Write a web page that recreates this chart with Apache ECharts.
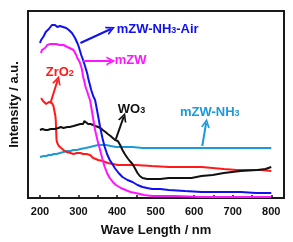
<!DOCTYPE html>
<html>
<head>
<meta charset="utf-8">
<script src="https://cdn.jsdelivr.net/npm/echarts@6/dist/echarts.min.js"></script>
<style>html,body{margin:0;padding:0;background:#fff}#c{width:293px;height:242px}</style>
</head>
<body>
<div id="c"></div>
<script>
// x: wavelength (nm), y: intensity (a.u., arbitrary units)
const xTicks = [200, 250, 300, 350, 400, 450, 500, 550, 600, 650, 700, 750, 800];
const xLabels = [200, 300, 400, 500, 600, 700, 800];

const mzwNH3Air = [[200,155],[203,158],[205,160],[208,159],[210,162],[213,164],[215,166],[218,166],[220,168],[223,169],[226,171],[228,170],[231,173],[234,172],[236,171],[239,173],[241,172],[245,171],[249,171],[252,172],[256,171],[260,171],[264,171],[268,170],[271,169],[275,168],[279,167],[283,165],[287,163],[291,160],[294,158],[297,155],[300,152],[304,147],[307,143],[310,140],[312,138],[316,133],[320,128],[323,124],[325,120],[329,114],[333,108],[338,102],[343,98],[349,86],[356,71],[362,60],[368,51],[374,44],[381,38],[388,34],[394,30],[404,25],[414,21],[427,18],[440,16],[453,13],[466,11],[478,10],[491,9],[512,9],[534,8],[576,7],[619,6],[670,6],[721,6],[760,5],[800,5]];

const mzw = [[203,145],[205,148],[207,147],[210,150],[213,150],[215,151],[219,153],[223,154],[227,154],[231,155],[235,154],[238,153],[242,154],[246,154],[251,153],[256,153],[261,153],[266,152],[271,151],[277,150],[282,149],[287,148],[291,146],[294,143],[297,140],[300,138],[303,136],[305,135],[308,130],[310,126],[312,121],[315,117],[317,113],[320,109],[323,106],[326,102],[330,98],[336,84],[343,68],[349,58],[356,48],[362,39],[368,31],[374,25],[381,20],[389,16],[397,13],[410,10],[422,8],[435,6],[448,5],[470,3],[491,2],[550,2],[619,1],[700,1],[800,1]];

const wo3 = [[200,68],[203,67],[206,69],[210,69],[214,68],[217,69],[220,68],[224,69],[228,69],[233,70],[238,69],[243,70],[248,70],[254,71],[261,70],[266,71],[271,71],[277,71],[282,72],[287,72],[292,72],[296,73],[300,73],[305,74],[308,74],[312,74],[315,77],[317,76],[320,75],[325,74],[331,74],[338,73],[344,72],[351,71],[357,70],[363,68],[370,66],[376,64],[383,62],[389,60],[395,58],[402,57],[408,53],[414,48],[420,44],[427,40],[433,37],[440,34],[446,30],[453,25],[459,22],[466,20],[478,19],[491,19],[512,19],[534,20],[564,20],[593,20],[619,22],[648,23],[677,25],[720,27],[764,28],[785,29],[800,31]];

const zro2 = [[203,100],[205,99],[208,97],[211,96],[213,95],[216,94],[218,95],[221,95],[223,96],[226,96],[228,96],[231,95],[233,94],[235,92],[236,91],[237,88],[238,86],[240,82],[241,78],[242,68],[243,58],[245,55],[249,52],[254,50],[261,48],[269,46],[279,45],[287,44],[296,45],[305,45],[312,44],[321,44],[330,43],[334,42],[338,40],[345,39],[351,38],[363,37],[376,35],[389,34],[402,33],[414,33],[430,33],[448,33],[490,32],[534,31],[576,31],[619,31],[648,30],[677,29],[710,28],[746,28],[775,28],[800,27]];

const mzwNH3 = [[200,41],[205,41],[210,42],[216,42],[223,43],[230,43],[236,44],[243,44],[252,45],[261,46],[270,47],[279,47],[287,48],[296,48],[305,49],[318,50],[330,51],[340,52],[351,53],[361,53],[371,53],[384,52],[397,51],[418,51],[440,51],[466,50],[491,50],[550,50],[619,50],[680,50],[746,50],[780,50],[800,50]];

const FONT = "'Liberation Sans', Arial, sans-serif";
const BLUE = '#1010f0', MAG = '#ff14ff', RED = '#ff1a1a', BLK = '#111111', CYAN = '#1c9ad8';
const chevron = 'path://M0,10 L5,0 L10,10 L8,10 L5,4 L2,10 Z';

function arrow(color, from, to) {
  return {
    silent: true,
    animation: false,
    symbol: ['none', chevron],
    symbolSize: [9, 9],
    label: {show: false},
    lineStyle: {color: color, width: 2, type: 'solid'},
    data: [[{coord: from}, {coord: to}]]
  };
}

function line(name, data, color, arr) {
  return {
    name: name, type: 'line', data: data, showSymbol: false, symbol: 'none',
    lineStyle: {color: color, width: 2}, itemStyle: {color: color},
    markLine: arr
  };
}

const chart = echarts.init(document.getElementById('c'));
const option = {
  animation: false,
  backgroundColor: '#fff',
  grid: {left: 24, top: 11, right: 9, bottom: 44, show: true, borderColor: '#1a1a1a', borderWidth: 2, backgroundColor: 'transparent'},
  xAxis: {
    type: 'value', min: 169, max: 833,
    name: 'Wave Length / nm', nameLocation: 'middle', nameGap: 26,
    nameTextStyle: {fontFamily: FONT, fontWeight: 'bold', fontSize: 13, color: '#111'},
    axisLine: {show: false},
    splitLine: {show: false},
    axisTick: {show: true, inside: true, length: 3, lineStyle: {color: '#111', width: 1.5}, customValues: xTicks},
    axisLabel: {fontFamily: FONT, fontWeight: 'bold', fontSize: 11, color: '#111', margin: 8, customValues: xLabels}
  },
  yAxis: {
    type: 'value', min: 0, max: 187,
    name: 'Intensity / a.u.', nameLocation: 'middle', nameGap: 7,
    nameTextStyle: {fontFamily: FONT, fontWeight: 'bold', fontSize: 13, color: '#111'},
    axisLine: {show: false}, axisTick: {show: false}, axisLabel: {show: false}, splitLine: {show: false}
  },
  series: [
    line('mZW-NH3', mzwNH3, CYAN, arrow(CYAN, [621, 52], [631, 75])),
    line('ZrO2', zro2, RED, arrow(RED, [228, 96], [246, 118])),
    line('WO3', wo3, BLK, arrow(BLK, [397, 59], [417, 81])),
    line('mZW', mzw, MAG, arrow(MAG, [312, 137], [384, 137])),
    line('mZW-NH3-Air', mzwNH3Air, BLUE, arrow(BLUE, [305, 155], [384, 169]))
  ]
};
chart.setOption(option);

const labels = [
  {parts: [['mZW-NH', 'n'], ['3', 's'], ['-Air', 'n']], color: BLUE, at: [399, 170]},
  {parts: [['mZW', 'n']], color: MAG, at: [394, 139]},
  {parts: [['ZrO', 'n'], ['2', 's']], color: RED, at: [215, 127]},
  {parts: [['WO', 'n'], ['3', 's']], color: BLK, at: [402, 90]},
  {parts: [['mZW-NH', 'n'], ['3', 's']], color: CYAN, at: [563, 87]}
];
const graphics = labels.map(l => {
  const p = chart.convertToPixel({gridIndex: 0}, l.at);
  return {
    type: 'text', x: p[0], y: p[1], silent: true,
    style: {
      text: l.parts.map(t => '{' + t[1] + '|' + t[0] + '}').join(''),
      fill: l.color, verticalAlign: 'middle', align: 'left',
      rich: {
        n: {fontFamily: FONT, fontWeight: 'bold', fontSize: 13, fill: l.color, verticalAlign: 'bottom', lineHeight: 15},
        s: {fontFamily: FONT, fontWeight: 'bold', fontSize: 9, fill: l.color, verticalAlign: 'bottom', lineHeight: 12}
      }
    }
  };
});
chart.setOption({graphic: graphics});
</script>
</body>
</html>
